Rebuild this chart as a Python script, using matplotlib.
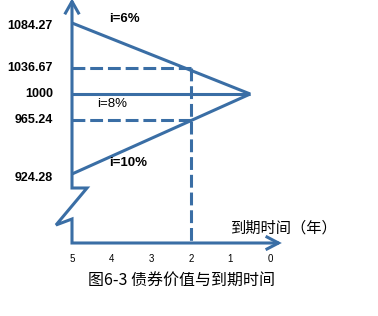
import numpy as np
import matplotlib.pyplot as plt
from matplotlib.transforms import blended_transform_factory, offset_copy

# 1000 par bond, 8% coupon, 5 years to maturity, priced at three market rates
rates = ['i=6%', 'i=8%', 'i=10%']
value_5yr = [1084.27, 1000.00, 924.28]
value_2yr = [1036.67, 965.24]          # i=6% and i=10% with two years left
face_value = 1000.00
year_start = 5
year_mid = 2
year_end = 0.5                          # where the three lines meet
year_ticks = [5, 4, 3, 2, 1, 0]
value_labels = [1084.27, 1036.67, 1000, 965.24, 924.28]

W, H = 378, 316
blue = '#3a6ea5'
lw = 2.2
num_font = 'Liberation Sans'
cjk_font = ['Noto Sans CJK SC', 'DejaVu Sans']


def lin_ext(x, xp, fp):
    # np.interp with straight-line extrapolation past both ends
    x = np.asarray(x, dtype=float)
    y = np.interp(x, xp, fp)
    lo = (fp[1] - fp[0]) / (xp[1] - xp[0])
    hi = (fp[-1] - fp[-2]) / (xp[-1] - xp[-2])
    y = np.where(x < xp[0], fp[0] + (x - xp[0]) * lo, y)
    y = np.where(x > xp[-1], fp[-1] + (x - xp[-1]) * hi, y)
    return y


fig = plt.figure(figsize=(W / 100, H / 100), dpi=100)

# main axes: years on x, bond value on a schematic (not to scale) y axis
ax = fig.add_axes([0, 0, 1, 1])
px_per_year = 39.6
axis_px = 72
ax.set_xlim(year_start + axis_px / px_per_year,
            year_start - (W - axis_px) / px_per_year)

vals_sorted = sorted(value_labels)
rows = [142, 196, 222, 248, 293]        # pixel height of each labelled value
ax.set_yscale('function', functions=(lambda v: lin_ext(v, vals_sorted, rows),
                                     lambda h: lin_ext(h, rows, vals_sorted)))
ax.set_ylim(float(lin_ext(0, rows, vals_sorted)), float(lin_ext(H, rows, vals_sorted)))
ax.set_axis_off()

# overlay in pixel units for the hand-drawn axes and text
deco = fig.add_axes([0, 0, 1, 1], facecolor='none')
deco.set_xlim(0, W)
deco.set_ylim(H, 0)
deco.set_axis_off()

x_axis_value = float(lin_ext(H - 243, rows, vals_sorted))

for v in value_5yr:
    ax.plot([year_start, year_end], [v, face_value], color=blue, lw=lw,
            solid_capstyle='butt')
for v in value_2yr:
    ax.plot([year_start, year_mid], [v, v], color=blue, lw=lw,
            ls=(0, (4.2, 1.6)), dash_capstyle='butt')
ax.plot([year_mid, year_mid], [value_2yr[0], x_axis_value], color=blue, lw=lw,
        ls=(0, (4.2, 1.6)), dash_capstyle='butt')

# axes with a break on the value axis
deco.plot([72, 72, 87, 56, 72, 72, 279], [1, 188, 188, 225, 219, 243, 243],
          color=blue, lw=lw, solid_joinstyle='miter', solid_capstyle='butt')
deco.plot([65.5, 72, 78.5], [13, 1.5, 13], color=blue, lw=lw, solid_joinstyle='miter')
deco.plot([267, 278.5, 267], [237, 243, 249], color=blue, lw=lw, solid_joinstyle='miter')

ytrans = blended_transform_factory(deco.transData, ax.transData)
label_drop = [3, 0, 0, 0, 4]            # pixels, for the end labels
for v, d in zip(value_labels, label_drop):
    ax.text(53, v, f'{v:g}', ha='right', va='center', fontsize=9,
            fontweight='bold', family=num_font,
            transform=offset_copy(ytrans, fig=fig, y=-d, units='dots'))

xtrans = blended_transform_factory(ax.transData, deco.transData)
for t in year_ticks:
    ax.text(t, 259, str(t), transform=xtrans, ha='center', va='center',
            fontsize=7, family=num_font)

for label, (x, y), weight in zip(rates, [(124, 19), (112, 104), (128, 163)],
                                 ['bold', 'normal', 'bold']):
    deco.text(x, y, label, ha='center', va='center', fontsize=9.5,
              fontweight=weight, family=num_font)

deco.text(283, 228, '到期时间（年）', ha='center', va='center', fontsize=11,
          family=cjk_font)
deco.text(182, 281, '图6-3 债券价值与到期时间', ha='center', va='center',
          fontsize=11.5, family=cjk_font)

fig.savefig('out.png', dpi=100)
